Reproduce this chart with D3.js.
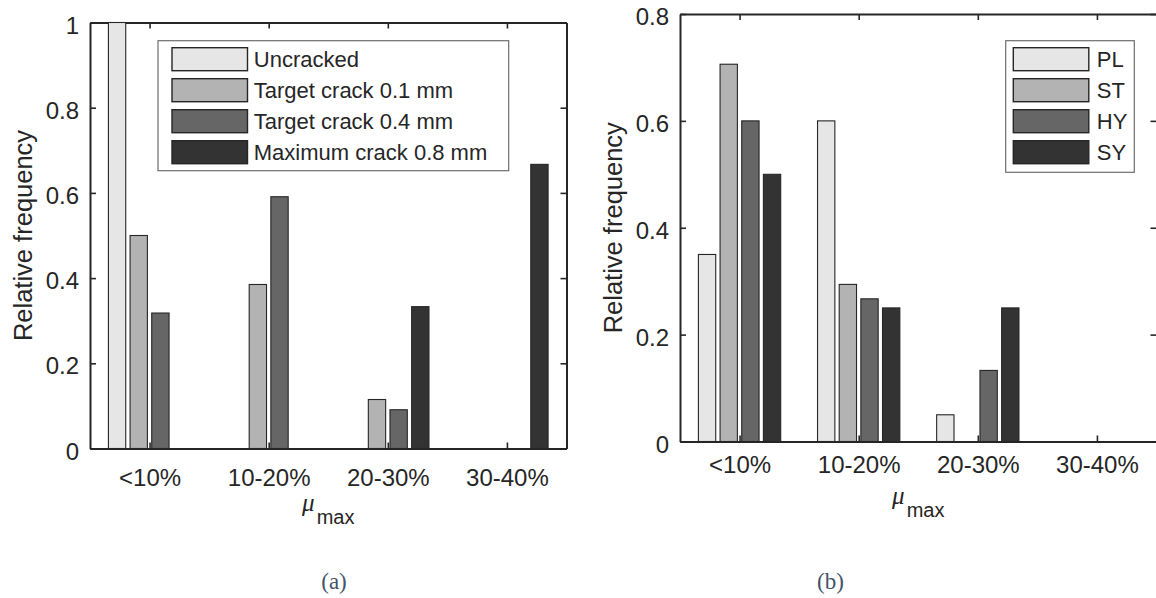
<!DOCTYPE html>
<html>
<head>
<meta charset="utf-8">
<script src="https://cdn.jsdelivr.net/npm/d3@7"></script>
<style>
  body { margin: 0; background: #fff; }
  svg { display: block; }
</style>
</head>
<body>
<svg id="fig" width="1156" height="598"></svg>
<script>
// data
const categories = ["<10%", "10-20%", "20-30%", "30-40%"];

const seriesA = ["Uncracked", "Target crack 0.1 mm", "Target crack 0.4 mm", "Maximum crack 0.8 mm"];
const uncracked = [1, 0, 0, 0];
const target01 = [0.5, 0.385, 0.115, 0];
const target04 = [0.318, 0.591, 0.091, 0];
const maxCrack08 = [0, 0, 0.333, 0.667];

const seriesB = ["PL", "ST", "HY", "SY"];
const pl = [0.35, 0.6, 0.05, 0];
const st = [0.706, 0.294, 0, 0];
const hy = [0.6, 0.267, 0.133, 0];
const sy = [0.5, 0.25, 0.25, 0];

const yTicksA = [0, 0.2, 0.4, 0.6, 0.8, 1];
const yTicksB = [0, 0.2, 0.4, 0.6, 0.8];

const greys = ["#e6e6e6", "#b3b3b3", "#666666", "#333333"];
const ink = "#262626";
const sans = "'Liberation Sans', Arial, sans-serif";

const svg = d3.select("#fig");

function panel(options) {
  let left = options.left, right = options.right, top = options.top, bottom = options.bottom;
  let series = options.series;
  let values = options.values;

  let x = d3.scaleLinear().domain([0.5, categories.length + 0.5]).range([left, right]);
  let y = d3.scaleLinear().domain([0, options.ymax]).range([bottom, top]);

  // MATLAB style grouped bars
  let gw = Math.min(0.8, series.length / (series.length + 1.5));
  let inner = d3.scaleBand()
    .domain(series)
    .range([-gw / 2, gw / 2])
    .paddingInner(0.2)
    .paddingOuter(0.1);

  let g = svg.append("g");

  let rows = [];
  series.forEach((s, j) => {
    values[j].forEach((v, i) => {
      if (v > 0) rows.push({ s: s, j: j, i: i, v: v });
    });
  });

  // axes (ticks inward)
  let ax = g.append("g").attr("font-family", sans);
  ax.append("g")
    .attr("transform", `translate(0,${bottom})`)
    .call(d3.axisBottom(x).tickValues(d3.range(1, categories.length + 1))
      .tickFormat((d) => categories[d - 1]).tickSizeInner(-6).tickSizeOuter(0).tickPadding(20.5));
  ax.append("g")
    .attr("transform", `translate(0,${top})`)
    .call(d3.axisTop(x).tickValues(d3.range(1, categories.length + 1))
      .tickFormat("").tickSizeInner(-6).tickSizeOuter(0));
  ax.append("g")
    .attr("transform", `translate(${left},0)`)
    .call(d3.axisLeft(y).tickValues(options.yticks).tickFormat(d3.format("~g"))
      .tickSizeInner(-6).tickSizeOuter(0).tickPadding(11));
  ax.append("g")
    .attr("transform", `translate(${right},0)`)
    .call(d3.axisRight(y).tickValues(options.yticks).tickFormat("")
      .tickSizeInner(-6).tickSizeOuter(0));

  ax.selectAll(".tick line").attr("stroke", ink).attr("stroke-width", 1.6);
  ax.selectAll(".domain").attr("stroke", ink).attr("stroke-width", 2);
  ax.selectAll(".tick text").attr("fill", ink).attr("font-size", 24);
  ax.selectAll("g:nth-child(3) .tick text").attr("dy", 10.5);

  // bars
  g.append("g")
    .selectAll("rect")
    .data(rows)
    .join("rect")
    .attr("x", (d) => x(d.i + 1 + inner(d.s)))
    .attr("y", (d) => y(d.v))
    .attr("width", x(inner.bandwidth()) - x(0))
    .attr("height", (d) => y(0) - y(d.v))
    .attr("fill", (d) => greys[d.j])
    .attr("stroke", ink)
    .attr("stroke-width", 1.1);

  // axis labels
  g.append("text")
    .attr("transform", `translate(${options.ylabX},${(top + bottom) / 2}) rotate(-90)`)
    .attr("text-anchor", "middle")
    .attr("font-family", sans)
    .attr("font-size", 25.5)
    .attr("fill", ink)
    .text("Relative frequency");

  let xl = g.append("text")
    .attr("x", (left + right) / 2)
    .attr("y", bottom + 62)
    .attr("text-anchor", "middle")
    .attr("fill", ink);
  xl.append("tspan")
    .attr("font-family", "'Liberation Serif', serif")
    .attr("font-style", "italic")
    .attr("font-size", 25)
    .text("\u03bc");
  xl.append("tspan")
    .attr("font-family", sans)
    .attr("font-size", 20)
    .attr("dx", 2)
    .attr("dy", 13)
    .text("max");

  // legend
  let lg = options.legend;
  let leg = g.append("g");
  leg.append("rect")
    .attr("x", lg.x).attr("y", lg.y)
    .attr("width", lg.w).attr("height", lg.h)
    .attr("fill", "#fff")
    .attr("stroke", "#6e6e6e")
    .attr("stroke-width", 1.2);
  let item = leg.selectAll("g")
    .data(series)
    .join("g")
    .attr("transform", (d, j) => `translate(${lg.x + lg.pad},${lg.y + 7 + j * 31})`);
  item.append("rect")
    .attr("width", 75.5).attr("height", 23)
    .attr("fill", (d, j) => greys[j])
    .attr("stroke", ink)
    .attr("stroke-width", 1.4);
  item.append("text")
    .attr("x", 75.5 + lg.gap)
    .attr("y", 19.5)
    .attr("font-family", sans)
    .attr("font-size", 22)
    .attr("fill", ink)
    .text((d) => d);

  // caption
  svg.append("text")
    .attr("x", options.capX)
    .attr("y", 589)
    .attr("text-anchor", "middle")
    .attr("font-family", "'Liberation Serif', 'Times New Roman', serif")
    .attr("font-size", 23)
    .attr("fill", "#44546a")
    .text(options.caption);
}

panel({
  left: 90, right: 566.5, top: 22.5, bottom: 448.5, ymax: 1,
  yticks: yTicksA, series: seriesA,
  values: [uncracked, target01, target04, maxCrack08],
  ylabX: 31.5,
  legend: { x: 158, y: 40.7, w: 350.7, h: 130, pad: 14, gap: 6.3 },
  caption: "(a)", capX: 334
});

panel({
  left: 680, right: 1156.5, top: 14, bottom: 441.5, ymax: 0.8,
  yticks: yTicksB, series: seriesB,
  values: [pl, st, hy, sy],
  ylabX: 621.5,
  legend: { x: 1005.7, y: 40.7, w: 128.6, h: 131.6, pad: 7.6, gap: 8 },
  caption: "(b)", capX: 830.5
});
</script>
</body>
</html>
